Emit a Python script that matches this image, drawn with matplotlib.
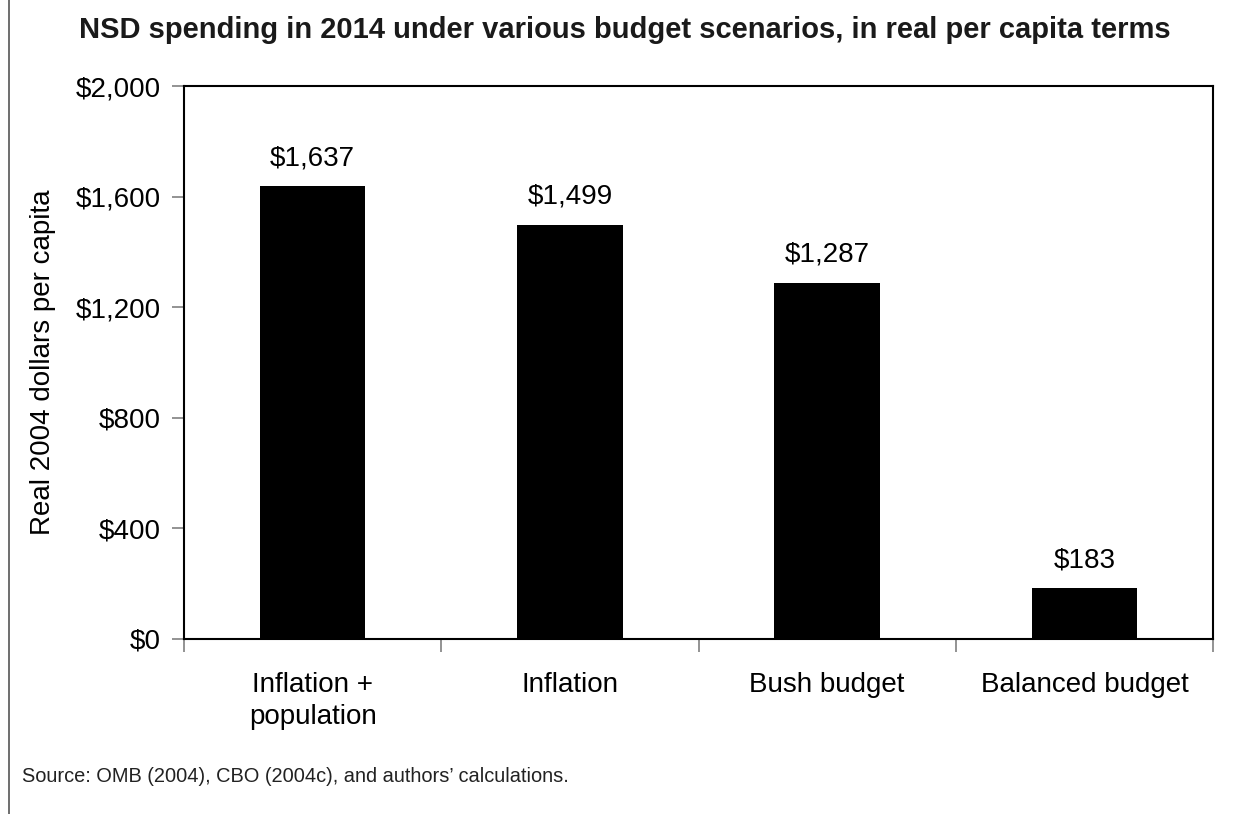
import matplotlib
matplotlib.use("Agg")
import matplotlib.pyplot as plt
from matplotlib.lines import Line2D

categories = ["Inflation +\npopulation", "Inflation", "Bush budget", "Balanced budget"]
values = [1637, 1499, 1287, 183]
yticks = [0, 400, 800, 1200, 1600, 2000]

plt.rcParams['font.family'] = ['Liberation Sans', 'DejaVu Sans']

fig = plt.figure(figsize=(12.49, 8.14), dpi=100)
ax = fig.add_axes([0.1473, 0.2150, 0.8239, 0.6793])

x = range(len(categories))
ax.bar(x, values, width=0.41, color='black')
for i, v in enumerate(values):
    ax.text(i, v + 55, "${:,}".format(v), ha='center', va='bottom', fontsize=20)

ax.set_xlim(-0.5, len(categories) - 0.5)
ax.set_ylim(0, 2000)
ax.set_yticks(yticks)
ax.set_yticklabels(["${:,}".format(t) for t in yticks], fontsize=20)
ax.set_xticks([i + 0.5 for i in range(-1, len(categories))], minor=False)
ax.set_xticklabels([])
ax.set_xticks(list(x), minor=True)
ax.set_xticklabels(categories, minor=True, fontsize=20, linespacing=1.3)
ax.tick_params(axis='x', which='minor', length=0, pad=24)
ax.tick_params(axis='x', which='major', length=9, color='#808080', width=1.2)
ax.tick_params(axis='y', length=9, color='#808080', width=1.2, pad=8)
for s in ax.spines.values():
    s.set_linewidth(1.5)

ax.set_ylabel("Real 2004 dollars per capita", fontsize=20, labelpad=14)
fig.text(0.5, 0.963, "NSD spending in 2014 under various budget scenarios, in real per capita terms",
         ha='center', va='center', fontsize=21, fontweight='bold', color='#1a1a1a')
fig.text(0.0176, 0.0455, "Source: OMB (2004), CBO (2004c), and authors\u2019 calculations.",
         ha='left', va='center', fontsize=14.4, color='#222222')
fig.add_artist(Line2D([0.0072, 0.0072], [0, 1], color='#555555', lw=1.2, transform=fig.transFigure))

fig.savefig("out.png", dpi=100)
